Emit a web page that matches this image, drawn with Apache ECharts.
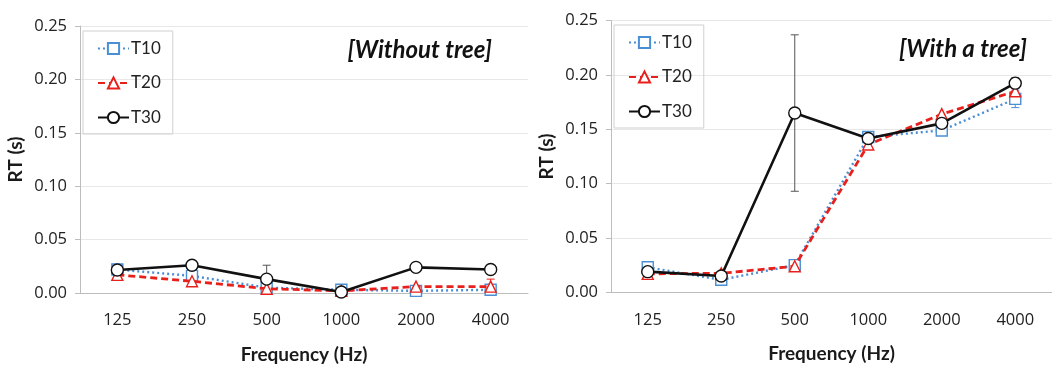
<!DOCTYPE html>
<html><head><meta charset="utf-8">
<script src="https://cdn.jsdelivr.net/npm/echarts@6/dist/echarts.min.js"></script>
<style>html,body{margin:0;padding:0;background:#fff}#c{width:1052px;height:370px}</style>
</head><body><div id="c"></div>
<script>
const categories = ['125','250','500','1000','2000','4000'];
const yTicks = [0, 0.05, 0.10, 0.15, 0.20, 0.25];
const seriesNames = ['T10','T20','T30'];
const panelTitles = ['[Without tree]','[With a tree]'];
// Left panel: without tree
const leftT10 = [0.022, 0.016, 0.005, 0.003, 0.002, 0.003];
const leftT20 = [0.017, 0.011, 0.004, 0.002, 0.006, 0.006];
const leftT30 = [0.0215, 0.026, 0.013, 0.001, 0.024, 0.022];
const leftErrT10 = [null, null, null, null, null, null];
const leftErrT20 = [null, null, null, null, null, 0.007];
const leftErrT30 = [0.005, null, 0.013, null, null, null];
// Right panel: with a tree
const rightT10 = [0.023, 0.0115, 0.025, 0.143, 0.149, 0.178];
const rightT20 = [0.017, 0.0175, 0.024, 0.136, 0.164, 0.185];
const rightT30 = [0.019, 0.015, 0.165, 0.1415, 0.1555, 0.1925];
const rightErrT10 = [null, null, null, null, 0.004, 0.008];
const rightErrT20 = [null, null, null, null, null, null];
const rightErrT30 = [null, null, 0.072, null, null, 0.005];

const colors = ['#4a8fd4', '#e8201c', '#111111'];
const lineTypes = [[2, 3], [7, 4], 'solid'];
const lineWidths = [2.4, 2.8, 2.6];
const symbols = ['rect', 'triangle', 'circle'];
const FONT = 'Lato';
const NUMFONT = 'Open Sans';

const chart = echarts.init(document.getElementById('c'));

function lineSeries(i, data, p) {
  return {
    name: seriesNames[i], type: 'line', xAxisIndex: p, yAxisIndex: p,
    data: data, symbol: symbols[i], symbolSize: i === 2 ? 12 : 11,
    showAllSymbol: true, z: 3 + i,
    lineStyle: { color: colors[i], width: lineWidths[i], type: lineTypes[i] },
    itemStyle: { color: '#fff', borderColor: colors[i], borderWidth: 1.4 },
    emphasis: { disabled: true }, animation: false
  };
}
function errSeries(i, vals, errs, p) {
  const d = [];
  errs.forEach((e, k) => { if (e != null) d.push([k, vals[k], e]); });
  return {
    type: 'custom', xAxisIndex: p, yAxisIndex: p, z: 2, silent: true, animation: false,
    data: d,
    renderItem: function (params, api) {
      const x = api.value(0), v = api.value(1), e = api.value(2);
      const top = api.coord([x, v + e]), bot = api.coord([x, v - e]);
      const w = 4;
      const st = { stroke: i === 2 ? '#555' : colors[i], lineWidth: 1 };
      return { type: 'group', children: [
        { type: 'line', shape: { x1: top[0], y1: top[1], x2: bot[0], y2: bot[1] }, style: st },
        { type: 'line', shape: { x1: top[0] - w, y1: top[1], x2: top[0] + w, y2: top[1] }, style: st },
        { type: 'line', shape: { x1: bot[0] - w, y1: bot[1], x2: bot[0] + w, y2: bot[1] }, style: st }
      ]};
    }
  };
}
function xAxis(p) {
  return {
    type: 'category', gridIndex: p, data: categories, boundaryGap: true,
    name: 'Frequency (Hz)', nameLocation: 'middle', nameGap: 52,
    nameTextStyle: { fontFamily: FONT, fontSize: 19, fontWeight: 'bold', color: '#1a1a1a' },
    axisLine: { lineStyle: { color: '#bdbdbd', width: 1 } },
    axisTick: { alignWithLabel: true, length: 5, lineStyle: { color: '#bdbdbd' } },
    axisLabel: { fontFamily: NUMFONT, fontSize: 16.5, color: '#222', margin: 19 },
    splitLine: { show: false }
  };
}
function yAxis(p) {
  return {
    type: 'value', gridIndex: p, min: 0, max: yTicks[yTicks.length - 1], interval: 0.05,
    name: 'RT (s)', nameLocation: 'middle', nameGap: 55,
    nameTextStyle: { fontFamily: FONT, fontSize: 19, fontWeight: 'bold', color: '#1a1a1a' },
    axisLine: { show: true, lineStyle: { color: '#bdbdbd', width: 1 } },
    axisTick: { show: true, length: 5, lineStyle: { color: '#bdbdbd' } },
    axisLabel: { fontFamily: NUMFONT, fontSize: 16.5, color: '#222', margin: 13,
      formatter: v => v.toFixed(2) },
    splitLine: { show: true, lineStyle: { color: '#e8e8e8', width: 1 } }
  };
}
function legend(p, left, top) {
  return {
    data: seriesNames, orient: 'vertical', left: left, top: top,
    itemWidth: 31, itemHeight: 14, itemGap: 17.5,
    padding: [9, 12, 8, 14], borderColor: '#d0d0d0', borderWidth: 1,
    textStyle: { fontFamily: FONT, fontSize: 17, color: '#222', padding: [0, 0, 0, -3] },
    selectedMode: false
  };
}

const titleStyle = { fontFamily: FONT, fontSize: 24, fontStyle: 'italic', fontWeight: 'bold', color: '#111' };
const option = {
  backgroundColor: '#fff',
  animation: false,
  title: [
    { text: panelTitles[0], right: 1052 - 497, top: 33, textStyle: titleStyle },
    { text: panelTitles[1], right: 1052 - 1032, top: 32, textStyle: titleStyle }
  ],
  grid: [
    { left: 80, top: 26, width: 448, height: 267 },
    { left: 611, top: 20.7, width: 447, height: 271.6 }
  ],
  xAxis: [xAxis(0), xAxis(1)],
  yAxis: [yAxis(0), yAxis(1)],
  legend: [legend(0, 83, 31), legend(1, 614, 25)],
  series: [
    errSeries(0, leftT10, leftErrT10, 0),
    errSeries(1, leftT20, leftErrT20, 0),
    errSeries(2, leftT30, leftErrT30, 0),
    lineSeries(0, leftT10, 0),
    lineSeries(1, leftT20, 0),
    lineSeries(2, leftT30, 0),
    errSeries(0, rightT10, rightErrT10, 1),
    errSeries(1, rightT20, rightErrT20, 1),
    errSeries(2, rightT30, rightErrT30, 1),
    lineSeries(0, rightT10, 1),
    lineSeries(1, rightT20, 1),
    lineSeries(2, rightT30, 1)
  ]
};
chart.setOption(option);
</script></body></html>
